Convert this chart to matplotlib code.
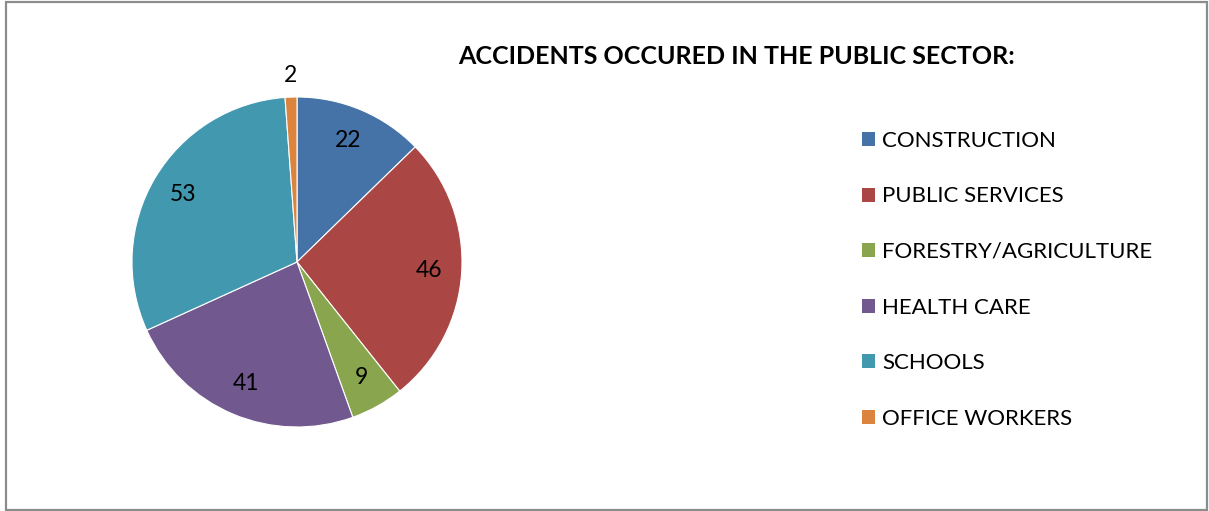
import numpy as np
import matplotlib.pyplot as plt
import matplotlib.patches as patches

# --- Data ---
categories = ['CONSTRUCTION', 'PUBLIC SERVICES', 'FORESTRY/AGRICULTURE',
              'HEALTH CARE', 'SCHOOLS', 'OFFICE WORKERS']
accidents = [22, 46, 9, 41, 53, 2]
title = 'ACCIDENTS OCCURED IN THE PUBLIC SECTOR:'

# Excel-ish palette
colors = ['#4572A7', '#AA4643', '#89A54E', '#71588F', '#4198AF', '#DB843D']

FONT = ['Lato', 'DejaVu Sans']
plt.rcParams['font.family'] = FONT

W, H = 1209, 511
fig = plt.figure(figsize=(W / 100, H / 100), dpi=100)
fig.patch.set_facecolor('white')

# chart border
border = patches.Rectangle((5.5 / W, 1.5 / H), (1207 - 5.5) / W, (509 - 1.5) / H,
                           transform=fig.transFigure, fill=False,
                           edgecolor='#8C8C8C', linewidth=1.6)
fig.add_artist(border)

# pie axes: centre (297, 262) px, radius 165 px
ax = fig.add_axes([132 / W, (H - 262 - 165) / H, 330 / W, 330 / H])
wedges, texts = ax.pie(accidents, colors=colors, startangle=90, counterclock=False,
                       labels=[str(v) for v in accidents], labeldistance=0.8,
                       wedgeprops=dict(edgecolor='white', linewidth=0.8),
                       textprops=dict(fontsize=16.5, color='black'))
ax.set_xlim(-1, 1)
ax.set_ylim(-1, 1)
ax.set_aspect('equal')
ax.axis('off')

# small slice label sits outside the pie
for t in texts:
    t.set_ha('center')
    t.set_va('center')
    t.set_clip_on(False)
x, y = texts[-1].get_position()
texts[-1].set_position((x / 0.8 * 1.13, y / 0.8 * 1.13))

fig.text(737 / W, 1 - 57 / H, title, ha='center', va='center',
         fontsize=18, fontweight='bold')

handles = [patches.Patch(facecolor=c, label=l) for c, l in zip(colors, categories)]
fig.legend(handles=handles, loc='upper left', bbox_to_anchor=(853 / W, 1 - 122 / H),
           frameon=False, fontsize=16, handlelength=0.6, handleheight=0.6,
           handletextpad=0.3, labelspacing=1.6, borderaxespad=0)

fig.savefig('out.png', dpi=100)
